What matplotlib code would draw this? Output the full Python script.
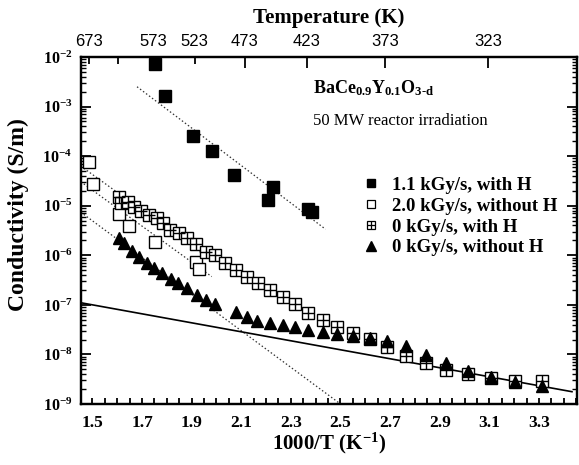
import numpy as np
import matplotlib
matplotlib.use('Agg')
import matplotlib.pyplot as plt
from matplotlib.ticker import FixedLocator, FixedFormatter, LogLocator, NullFormatter
from matplotlib.legend_handler import HandlerTuple
from matplotlib.lines import Line2D
from matplotlib.font_manager import FontProperties

plt.rcParams['font.family'] = ['Liberation Serif', 'DejaVu Serif']
plt.rcParams['mathtext.fontset'] = 'custom'
plt.rcParams['mathtext.rm'] = 'Liberation Serif'
plt.rcParams['mathtext.bf'] = 'Liberation Serif:bold'
plt.rcParams['mathtext.it'] = 'Liberation Serif:italic'
plt.rcParams['mathtext.default'] = 'bf'

# ---------------- data (x = 1000/T in 1/K, y = log10 conductivity in S/m) -------------
x_h11 = [1.753, 1.793, 1.905, 1.981, 2.072, 2.208, 2.227, 2.371, 2.384]
logy_h11 = [-2.141, -2.78, -3.594, -3.89, -4.38, -4.885, -4.616, -5.066, -5.12]

x_n20 = [1.488, 1.504, 1.609, 1.649, 1.753, 1.918, 1.931]
logy_n20 = [-4.112, -4.568, -5.173, -5.409, -5.738, -6.142, -6.283]

x_h0 = [1.609, 1.614, 1.645, 1.668, 1.696, 1.730, 1.759, 1.786, 1.813, 1.849,
        1.883, 1.918, 1.958, 1.995, 2.035, 2.079, 2.122, 2.169, 2.216, 2.268,
        2.317, 2.371, 2.429, 2.488, 2.552, 2.617, 2.689, 2.763, 2.844, 2.925,
        3.012, 3.106, 3.204, 3.312]
logy_h0 = [-4.818, -4.939, -4.919, -5.020, -5.107, -5.187, -5.254, -5.343, -5.49, -5.557,
           -5.658, -5.772, -5.928, -5.994, -6.162, -6.297, -6.432, -6.565, -6.700, -6.836,
           -6.989, -7.158, -7.306, -7.453, -7.574, -7.695, -7.856, -8.032, -8.179, -8.314,
           -8.395, -8.482, -8.536, -8.536]

x_n0 = [1.609, 1.629, 1.661, 1.689, 1.719, 1.750, 1.782, 1.816, 1.847, 1.880,
        1.921, 1.957, 1.995, 2.079, 2.122, 2.165, 2.216, 2.268, 2.317, 2.371,
        2.429, 2.488, 2.552, 2.617, 2.689, 2.763, 2.844, 2.925, 3.012, 3.106,
        3.204, 3.312]
logy_n0 = [-5.657, -5.758, -5.908, -6.041, -6.162, -6.251, -6.351, -6.485, -6.565, -6.666,
           -6.801, -6.902, -6.983, -7.144, -7.239, -7.320, -7.360, -7.406, -7.453, -7.507,
           -7.554, -7.594, -7.628, -7.675, -7.723, -7.830, -8.012, -8.179, -8.328, -8.462,
           -8.550, -8.637]

# fit lines (end points)
fit_h11_x = [1.68, 2.44]
fit_h11_logy = [-2.60, -5.475]
fitA_x = [1.453, 1.95]
fitA_logy = [-4.20, -5.99]
fitB_x = [1.453, 1.981]
fitB_logy = [-4.515, -6.43]
fitC_x = [1.453, 2.50]
fitC_logy = [-5.13, -9.0]
fit_solid_x = [1.453, 3.433]
fit_solid_logy = [-6.957, -8.752]

labels = ['1.1 kGy/s, with H', '2.0 kGy/s, without H', '0 kGy/s, with H', '0 kGy/s, without H']

top_T_major = [473, 423, 373, 323]
top_T_minor = [673, 623, 573, 523]
top_T_minor_labels = ['673', '', '573', '523']

xtick_vals = [1.5, 1.7, 1.9, 2.1, 2.3, 2.5, 2.7, 2.9, 3.1, 3.3]
ytick_exps = [-9, -8, -7, -6, -5, -4, -3, -2]

p = lambda v: 10.0 ** np.asarray(v)

fig = plt.figure(figsize=(5.79, 4.65), dpi=100)
ax = fig.add_axes([0.1394, 0.1312, 0.857, 0.7462])
ax.set_yscale('log')
ax.set_xlim(1.453, 3.453)
ax.set_ylim(1e-9, 1e-2)

ms = 8.2
# fit lines
for fx, fy in [(fit_h11_x, fit_h11_logy), (fitA_x, fitA_logy), (fitB_x, fitB_logy), (fitC_x, fitC_logy)]:
    ax.plot(fx, p(fy), linestyle=(0, (1.2, 1.8)), color='#333333', lw=0.9, zorder=1)
ax.plot(fit_solid_x, p(fit_solid_logy), color='black', lw=1.2, zorder=1)

# data
ax.plot(x_h11, p(logy_h11), linestyle='none', marker='s', ms=ms, mfc='black', mec='black', zorder=3)
ax.plot(x_n20, p(logy_n20), linestyle='none', marker='s', ms=ms, mfc='white', mec='black', mew=1.0, zorder=3)
ax.plot(x_h0, p(logy_h0), linestyle='none', marker='s', ms=ms, mfc='white', mec='black', mew=1.0, zorder=3)
ax.plot(x_h0, p(logy_h0), linestyle='none', marker='+', ms=ms, mec='black', mew=1.0, zorder=3)
ax.plot(x_n0, p(logy_n0), linestyle='none', marker='^', ms=ms + 0.5, mfc='black', mec='black', zorder=4)

# ticks
ax.xaxis.set_major_locator(FixedLocator(xtick_vals))
ax.xaxis.set_minor_locator(FixedLocator(np.arange(1.50, 3.451, 0.05)))
ax.set_xticklabels([f'{v:.1f}' for v in xtick_vals], fontsize=12.5, fontweight='bold')
ax.yaxis.set_major_locator(FixedLocator([10.0 ** e for e in ytick_exps]))
ax.yaxis.set_major_formatter(FixedFormatter([r'$\mathbf{10^{%d}}$' % e for e in ytick_exps]))
ax.yaxis.set_minor_locator(LogLocator(base=10, subs=np.arange(2, 10), numticks=20))
ax.yaxis.set_minor_formatter(NullFormatter())
ax.tick_params(axis='y', which='major', direction='in', length=7, width=1.3, labelsize=11.5, right=True, pad=6)
ax.tick_params(axis='y', which='minor', direction='in', length=3.5, width=1.0, right=True)
ax.tick_params(axis='x', which='major', direction='in', length=4, width=1.3, pad=8, top=False)
ax.tick_params(axis='x', which='minor', direction='in', length=4, width=1.3, top=False)
for s in ax.spines.values():
    s.set_linewidth(1.6)

ax.set_xlabel('1000/T (K$^{-1}$)', fontsize=15, fontweight='bold', labelpad=0)
ax.set_ylabel('Conductivity (S/m)', fontsize=17, fontweight='bold')
ax.yaxis.set_label_coords(-0.104, 0.545)

# top temperature axis
ax2 = ax.twiny()
ax2.set_xlim(ax.get_xlim())
ax2.set_xticks([1000.0 / t for t in top_T_major])
ax2.set_xticklabels([str(t) for t in top_T_major], fontsize=12, family='Liberation Sans')
ax2.set_xticks([1000.0 / t for t in top_T_minor], minor=True)
ax2.set_xticklabels(top_T_minor_labels, minor=True, fontsize=12, family='Liberation Sans')
ax2.tick_params(axis='x', which='major', direction='in', length=8, width=1.3, pad=6)
ax2.tick_params(axis='x', which='minor', direction='in', length=5, width=1.3, pad=6)
ax2.set_xlabel('Temperature (K)', fontsize=15, fontweight='bold', labelpad=8)
for s in ax2.spines.values():
    s.set_linewidth(1.6)

# annotation
ax.text(0.469, 0.895, r'$\mathbf{BaCe_{0.9}Y_{0.1}O_{3\text{-}d}}$', transform=ax.transAxes,
        fontsize=13, ha='left', va='baseline')
ax.text(0.469, 0.805, '50 MW reactor irradiation', transform=ax.transAxes,
        fontsize=12, ha='left', va='baseline')

# legend
lms = 6
h1 = Line2D([], [], linestyle='none', marker='s', ms=lms, mfc='black', mec='black')
h2 = Line2D([], [], linestyle='none', marker='s', ms=lms, mfc='white', mec='black', mew=0.9)
h3a = Line2D([], [], linestyle='none', marker='s', ms=lms, mfc='white', mec='black', mew=0.9)
h3b = Line2D([], [], linestyle='none', marker='+', ms=lms, mec='black', mew=0.9)
h4 = Line2D([], [], linestyle='none', marker='^', ms=lms + 0.5, mfc='black', mec='black')
ax.legend([h1, h2, (h3a, h3b), h4], labels, handler_map={tuple: HandlerTuple(ndivide=1)},
          loc='upper left', bbox_to_anchor=(0.566, 0.655), frameon=False,
          handlelength=1.0, handletextpad=0.6, labelspacing=0.2, borderaxespad=0, borderpad=0,
          prop=FontProperties(family='Liberation Serif', weight='bold', size=13.5))

fig.savefig('out.png', dpi=100)
